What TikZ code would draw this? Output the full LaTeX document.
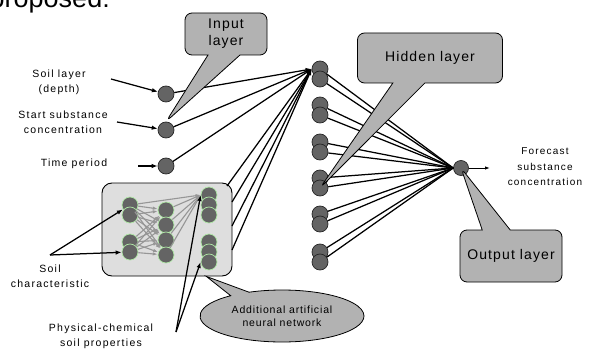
\documentclass[tikz,border=0pt]{standalone}
\usepackage{fontspec}
\setmainfont{Liberation Sans}
\newfontfamily\lblfont[LetterSpace=12]{Liberation Sans}
\newfontfamily\balfont[LetterSpace=8]{Liberation Sans}
\usetikzlibrary{arrows.meta,shapes.callouts,shapes.geometric}

\definecolor{neurongray}{RGB}{100,100,100}
\definecolor{subgreen}{RGB}{175,232,165}
\definecolor{boxgray}{RGB}{222,222,222}
\definecolor{balgray}{RGB}{178,178,178}
\definecolor{linkgray}{RGB}{150,150,150}

\tikzset{
  neuron/.style={circle, draw=black!85, fill=neurongray, minimum size=16pt, inner sep=0pt, line width=0.7pt},
  subneuron/.style={circle, draw=subgreen, fill=neurongray, minimum size=16pt, inner sep=0pt, line width=0.7pt},
  link/.style={line width=1.25pt},
  feed/.style={line width=1.25pt, -{Latex[length=6pt,width=4.5pt]}},
  sublink/.style={draw=linkgray, line width=1.1pt, -{Latex[length=5pt,width=3.5pt]}},
  inlbl/.style={align=center, inner sep=1pt, font=\lblfont\fontsize{10.5}{15}\selectfont},
  balloon/.style={rectangle callout, rounded corners=7pt, draw, fill=balgray, line width=0.8pt,
    callout pointer width=32pt, align=center, font=\balfont\fontsize{14}{17}\selectfont},
  subbox/.style={rectangle, rounded corners=10pt, draw, fill=boxgray, line width=0.9pt}
}

\begin{document}
\begin{tikzpicture}[x=1pt, y=-1pt]
\useasboundingbox (0,0) rectangle (589,350);

% Title, cut by the page edge
\node[anchor=base east, inner sep=0pt, font=\fontsize{27}{27}\selectfont] (title) at (110,8) {proposed:};

% Input layer
\node[neuron] (I1) at (166,94) {};
\node[neuron] (I2) at (166,130) {};
\node[neuron] (I3) at (166,166) {};

% Input labels
\node[inlbl] (depth) at (59,82) {Soil layer\\(depth)};
\node[inlbl] (start) at (63,122) {Start substance\\concentration};
\node[inlbl] (time) at (74,164) {Time period};
\coordinate (d0) at (111,79);
\coordinate (s0) at (117,122);
\coordinate (t0) at (138,166);
\draw[feed] (d0) -- (I1);
\draw[feed] (s0) -- (I2);
\draw[feed] (t0) -- (I3);

% Additional network box
\node[subbox, minimum width=130pt, minimum height=93pt] (subnet) at (167,229.5) {};
\node[subneuron] (A1) at (130,205) {};
\node[subneuron] (A2) at (130,215) {};
\node[subneuron] (A3) at (130,242) {};
\node[subneuron] (A4) at (130,252) {};
\node[subneuron] (B1) at (166,210) {};
\node[subneuron] (B2) at (166,225) {};
\node[subneuron] (B3) at (166,240) {};
\node[subneuron] (B4) at (166,255) {};
\node[subneuron] (C1) at (209,195) {};
\node[subneuron] (C2) at (209,205) {};
\node[subneuron] (C3) at (209,215) {};
\node[subneuron] (C4) at (209,242) {};
\node[subneuron] (C5) at (209,252) {};
\node[subneuron] (C6) at (209,262) {};
\foreach \a in {A1,A2,A3,A4}
  \foreach \b in {B1,B2,B3,B4}
    \draw[sublink] (\a) -- (\b);
\foreach \b in {A1,B1,B2,B3,B4}
  \draw[sublink] (\b) -- (C1.west);

% Box outputs
\coordinate (s1) at (227,186);
\coordinate (s2) at (232,202);
\coordinate (s3) at (232,226);
\coordinate (s4) at (232,250);

% Hidden layer
\node[neuron] (H1a) at (320,69) {};
\node[neuron] (H1b) at (320,79) {};
\node[neuron] (H2a) at (320,105) {};
\node[neuron] (H2b) at (320,115) {};
\node[neuron] (H3a) at (320,142) {};
\node[neuron] (H3b) at (320,152) {};
\node[neuron] (H4a) at (320,178) {};
\node[neuron] (H4b) at (320,188) {};
\node[neuron] (H5a) at (320,214) {};
\node[neuron] (H5b) at (320,224) {};
\node[neuron] (H6a) at (320,252) {};
\node[neuron] (H6b) at (320,262) {};
\foreach \n in {I1,I2,I3,s1,s2,s3,s4}
  \draw[feed] (\n) -- (H1a.west);

% Output layer
\node[neuron, minimum size=15pt] (Out) at (461,168) {};
\foreach \n in {H1a,H1b,H2a,H2b,H3a,H3b,H4a,H4b,H5a,H5b,H6a,H6b}
  \draw[link] (\n) -- (Out.west);
\coordinate (fc) at (490,168);
\draw[line width=0.9pt, -{Latex[length=5pt,width=3.5pt]}] (Out) -- (fc);
\node[inlbl, font=\lblfont\fontsize{10}{15.5}\selectfont] (forecast) at (545,167) {Forecast\\substance\\concentration};

% Soil labels
\node[inlbl] (soilchar) at (50,276) {Soil\\characteristic};
\coordinate (sc0) at (50,255);
\draw[feed] (sc0) -- (A1);
\draw[feed] (sc0) -- (A4);
\node[inlbl] (phys) at (101,336) {Physical-chemical\\soil properties};
\coordinate (pc0) at (176,332);
\draw[feed] (pc0) -- (C1.west);
\draw[feed] (pc0) -- (C6.west);

% Balloons
\node[balloon, minimum width=82pt, minimum height=42pt, callout absolute pointer={(I2.north)}] (inbal) at (226,34) {Input\\layer};
\node[balloon, minimum width=145pt, minimum height=50pt, callout absolute pointer={(H4b.center)}] (hidbal) at (430,58) {Hidden layer};
\node[balloon, minimum width=102pt, minimum height=52pt, callout pointer width=28pt, callout absolute pointer={(Out.center)}] (outbal) at (511,256) {Output layer};
\node[ellipse callout, draw, fill=balgray, line width=0.8pt, minimum width=164pt, minimum height=52pt,
  callout pointer width=30pt, callout absolute pointer={(subnet.-50)}, align=center,
  font=\balfont\fontsize{10.5}{13}\selectfont] (annbal) at (282,316) {Additional artificial\\neural network};

\end{tikzpicture}
\end{document}
